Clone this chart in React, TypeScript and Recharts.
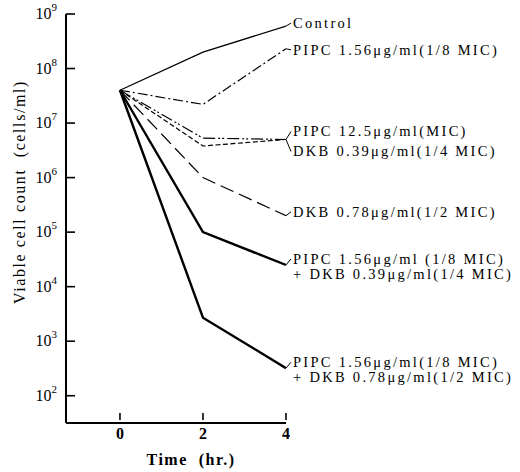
import React from "react";
import { LineChart, Line, XAxis, YAxis } from "recharts";

const times = [0, 2, 4];
const control = [4e7, 2e8, 6e8];
const pipcLow = [4e7, 2.2e7, 2.3e8];
const pipcMic = [4e7, 5.3e6, 5e6];
const dkbLow = [4e7, 3.8e6, 5e6];
const dkbHigh = [4e7, 1e6, 2e5];
const comboLow = [4e7, 1e5, 2.5e4];
const comboHigh = [4e7, 2.7e3, 3.2e2];

const yTicks = [1e2, 1e3, 1e4, 1e5, 1e6, 1e7, 1e8, 1e9];
const yExponents = ["2", "3", "4", "5", "6", "7", "8", "9"];
const xTicks = [0, 2, 4];

const data = times.map((t, i) => ({
  t,
  control: control[i],
  pipcLow: pipcLow[i],
  pipcMic: pipcMic[i],
  dkbLow: dkbLow[i],
  dkbHigh: dkbHigh[i],
  comboLow: comboLow[i],
  comboHigh: comboHigh[i],
}));

const FONT = "'Liberation Serif', 'DejaVu Serif', serif";

type SeriesCfg = {
  key: string;
  lines: string[];
  width: number;
  dash?: string;
  dy: number;
};

const series: SeriesCfg[] = [
  { key: "control", lines: ["Control"], width: 1.3, dy: 2 },
  { key: "pipcLow", lines: ["PIPC 1.56\u03bcg/ml(1/8 MIC)"], width: 1.2, dash: "10 3 2 3", dy: 6 },
  { key: "pipcMic", lines: ["PIPC 12.5\u03bcg/ml(MIC)"], width: 1.2, dash: "12 3 2 2 2 3", dy: -3 },
  { key: "dkbLow", lines: ["DKB 0.39\u03bcg/ml(1/4 MIC)"], width: 1.2, dash: "5 2.5", dy: 17 },
  { key: "dkbHigh", lines: ["DKB 0.78\u03bcg/ml(1/2 MIC)"], width: 1.2, dash: "14 6", dy: 1 },
  { key: "comboLow", lines: ["PIPC 1.56\u03bcg/ml (1/8 MIC)", "+ DKB 0.39\u03bcg/ml(1/4 MIC)"], width: 2.4, dy: -1 },
  { key: "comboHigh", lines: ["PIPC 1.56\u03bcg/ml(1/8 MIC)", "+ DKB 0.78\u03bcg/ml(1/2 MIC)"], width: 2.4, dy: -1 },
];

const YTick = (props: any) => {
  const { x, y, index } = props;
  return (
    <g>
      <line x1={x + 3} y1={y} x2={x + 12} y2={y} stroke="#000" strokeWidth={1.6} />
      <text x={x - 6} y={y + 5} textAnchor="end" fontFamily={FONT} fontSize={16} fill="#000">
        10
        <tspan dy={-8} fontSize={11}>
          {yExponents[index]}
        </tspan>
      </text>
    </g>
  );
};

const XTick = (props: any) => {
  const { x, y, payload } = props;
  return (
    <g>
      <line x1={x} y1={y - 3} x2={x} y2={y - 10} stroke="#000" strokeWidth={1.6} />
      <text x={x} y={y + 16} textAnchor="middle" fontFamily={FONT} fontSize={16} fontWeight="bold" fill="#000">
        {payload.value}
      </text>
    </g>
  );
};

const makeLabel = (cfg: SeriesCfg) => (props: any) => {
  const { x, y, index } = props;
  if (index !== times.length - 1) return null;
  const ty = y + cfg.dy;
  return (
    <g>
      <line x1={x} y1={y} x2={x + 5} y2={ty - 5} stroke="#000" strokeWidth={1} />
      {cfg.lines.map((l, i) => (
        <text
          key={i}
          x={x + 7}
          y={ty + i * 15}
          fontFamily={FONT}
          fontSize={14.5}
          letterSpacing={2.3}
          fill="#000"
          style={{ whiteSpace: "pre" }}
        >
          {l}
        </text>
      ))}
    </g>
  );
};

export default function App() {
  return (
    <div style={{ position: "absolute", left: 0, top: 0, width: 520, height: 472, background: "#fff" }}>
      <LineChart width={520} height={472} data={data} margin={{ top: 14, right: 234, left: 0, bottom: 0 }}>
        <XAxis
          dataKey="t"
          type="number"
          domain={[-1.3, 4]}
          ticks={xTicks}
          allowDataOverflow
          height={49}
          tickSize={0}
          tickMargin={0}
          tickLine={false}
          tick={<XTick />}
          axisLine={{ stroke: "#000", strokeWidth: 2 }}
        />
        <YAxis
          type="number"
          scale="log"
          domain={[Math.pow(10, 1.5), 1e9]}
          ticks={yTicks}
          allowDataOverflow
          width={66}
          tickSize={0}
          tickMargin={3}
          tickLine={false}
          tick={<YTick />}
          axisLine={{ stroke: "#000", strokeWidth: 2 }}
        />
        {series.map((s) => (
          <Line
            key={s.key}
            dataKey={s.key}
            type="linear"
            stroke="#000"
            strokeWidth={s.width}
            strokeDasharray={s.dash}
            dot={false}
            activeDot={false}
            isAnimationActive={false}
            label={makeLabel(s)}
          />
        ))}
      </LineChart>
      <svg width={520} height={472} style={{ position: "absolute", left: 0, top: 0, pointerEvents: "none" }}>
        <text
          transform="translate(25,192) rotate(-90)"
          textAnchor="middle"
          fontFamily={FONT}
          fontSize={16}
          letterSpacing={1.6}
          fill="#000"
          style={{ whiteSpace: "pre" }}
        >
          Viable cell count  (cells/ml)
        </text>
        <text x={191} y={465} textAnchor="middle" fontFamily={FONT} fontSize={16} fontWeight="bold" letterSpacing={1.5} fill="#000" style={{ whiteSpace: "pre" }}>
          Time  (hr.)
        </text>
      </svg>
    </div>
  );
}
